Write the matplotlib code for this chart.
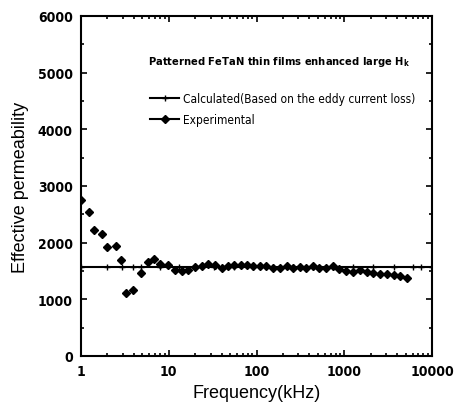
import matplotlib
matplotlib.use("Agg")
import matplotlib.pyplot as plt
from matplotlib.ticker import FixedLocator, LogLocator, NullFormatter

# --- data -----------------------------------------------------------------
freq_exp = [1.0, 1.23, 1.42, 1.75, 2.0, 2.5, 2.85, 3.3, 3.9, 4.8, 5.8, 6.8,
            8.0, 9.9, 11.8, 14, 16.7, 20, 23.7, 28, 33.5, 40, 47, 56, 66, 78,
            92, 110, 130, 155, 185, 220, 260, 310, 370, 440, 520, 620, 740,
            880, 1050, 1250, 1500, 1800, 2150, 2550, 3050, 3650, 4350, 5200]
perm_exp = [2760, 2550, 2230, 2150, 1920, 1950, 1700, 1110, 1160, 1460, 1660,
            1720, 1620, 1600, 1520, 1505, 1520, 1565, 1595, 1620, 1610, 1555,
            1580, 1600, 1610, 1600, 1590, 1580, 1590, 1560, 1550, 1580, 1560,
            1570, 1560, 1580, 1560, 1550, 1590, 1540, 1500, 1490, 1510, 1480,
            1470, 1440, 1440, 1430, 1410, 1370]

freq_calc = [1.0, 2.0, 2.9, 3.9, 4.8, 8.0, 13, 20, 33, 56, 92, 155, 260,
             440, 740, 1250, 2150, 3650, 6000, 7500, 10000]
perm_calc = [1575, 1575, 1575, 1575, 1575, 1575, 1575, 1575, 1575, 1575,
             1575, 1575, 1575, 1575, 1575, 1575, 1575, 1575, 1575, 1575, 1575]

yticks = [0, 1000, 2000, 3000, 4000, 5000, 6000]
xticks = [1, 10, 100, 1000, 10000]

narrow = "DejaVu Sans"
plain = ["Liberation Sans", "DejaVu Sans"]

fig = plt.figure(figsize=(4.54, 4.14), dpi=100)
ax = fig.add_axes([81 / 454, 1 - 357 / 414, 351 / 454, 340 / 414])

ax.plot(freq_calc, perm_calc, color="black", lw=1.5, marker="+", ms=4,
        mew=1.0, label="Calculated(Based on the eddy current loss)")
ax.plot(freq_exp, perm_exp, color="black", lw=0, marker="D", ms=4.2,
        label="Experimental")

ax.set_xscale("log")
ax.set_xlim(1, 10000)
ax.set_ylim(0, 6000)
ax.set_xticks(xticks)
ax.set_xticklabels([str(v) for v in xticks])
ax.xaxis.set_minor_locator(LogLocator(base=10, subs=range(2, 10)))
ax.xaxis.set_minor_formatter(NullFormatter())
ax.set_yticks(yticks)
ax.yaxis.set_minor_locator(FixedLocator([500, 1500, 2500, 3500, 4500, 5500]))

ax.tick_params(which="both", direction="in", top=True, right=True, width=1.2)
ax.tick_params(which="major", length=4, pad=6)
ax.tick_params(which="minor", length=2)
for lab in ax.get_xticklabels() + ax.get_yticklabels():
    lab.set_family(narrow)
    lab.set_stretch("condensed")
    lab.set_fontweight("bold")
    lab.set_fontsize(10)
for sp in ax.spines.values():
    sp.set_linewidth(1.5)

ax.set_xlabel("Frequency(kHz)", family=plain, fontsize=13, labelpad=4)
ax.set_ylabel("Effective permeability", family=plain, fontsize=13, labelpad=6)

ax.text(0.191, 0.868, "Patterned FeTaN thin films enhanced large H$_\\mathregular{k}$",
        transform=ax.transAxes, family=narrow, stretch="condensed",
        fontweight="bold", fontsize=8, va="center", ha="left")

leg = ax.legend(handles=ax.lines, loc="upper left", bbox_to_anchor=(0.167, 0.807),
                frameon=False,
                prop={"family": narrow, "stretch": "condensed", "size": 8.6},
                handlelength=2.4, handletextpad=0.3, labelspacing=0.65)
leg.legend_handles[1].set_linewidth(1.5)

fig.savefig("out.png", dpi=100)
